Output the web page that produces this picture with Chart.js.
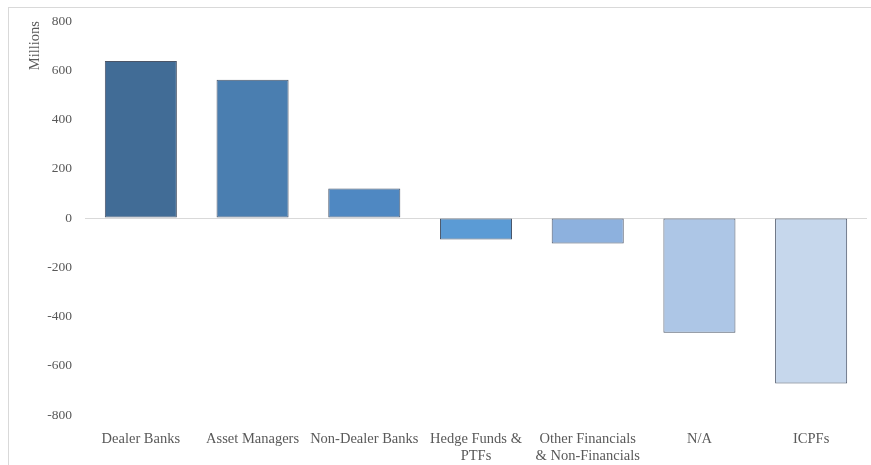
<!DOCTYPE html>
<html>
<head>
  <meta charset="utf-8">
  <title>Net positions by sector</title>
  <script src="https://cdn.jsdelivr.net/npm/chart.js"></script>
  <style>
    body {
      margin: 0;
      background: #fff;
      overflow: hidden;
    }
    #frame {
      position: absolute;
      left: 8px;
      top: 7px;
      width: 900px;
      height: 500px;
      border: 1px solid #d9d9d9;
    }
    #wrap {
      position: absolute;
      left: 0;
      top: 0;
      width: 871px;
      height: 465px;
    }
  </style>
</head>
<body>
  <div id="frame"></div>
  <div id="wrap">
    <canvas id="sectorChart" width="871" height="465"></canvas>
  </div>

  <script>
    // ------------------- DATA --------------------
    const categories = [
      'Dealer Banks',
      'Asset Managers',
      'Non-Dealer Banks',
      ['Hedge Funds &', 'PTFs'],
      ['Other Financials', '& Non-Financials'],
      'N/A',
      'ICPFs'
    ];
    const values = [638, 562, 120, -87, -103, -466, -672];
    const barColors = ['#416c96', '#4a7eb0', '#4f88c2', '#5b9bd5', '#8db1de', '#adc6e6', '#c6d7ec'];
    const yTicks = [-800, -600, -400, -200, 0, 200, 400, 600, 800];

    const fontFamily = '"Palatino Linotype", "Book Antiqua", Palatino, "Liberation Serif", serif';

    // ------------------- CHART --------------------
    const sectorChart = new Chart(document.getElementById('sectorChart'), {
      type: 'bar',
      data: {
        labels: categories,
        datasets: [{
          label: 'Millions',
          data: values,
          backgroundColor: barColors,
          borderColor: '#4a5568',
          borderWidth: 1,
          borderSkipped: false,
          categoryPercentage: 1,
          barPercentage: 0.645
        }]
      },
      options: {
        responsive: false,
        animation: false,
        devicePixelRatio: 1,
        layout: {
          padding: { left: 22, right: 4, top: 16, bottom: 0 }
        },
        plugins: {
          legend: { display: false },
          tooltip: { enabled: false }
        },
        scales: {
          x: {
            grid: { display: false, drawTicks: false },
            border: { display: false },
            ticks: {
              color: '#595959',
              font: { family: fontFamily, size: 14.5 },
              padding: 15,
              maxRotation: 0,
              autoSkip: false
            },
            afterFit: (scale) => { scale.height = 50; }
          },
          y: {
            min: -800,
            max: 800,
            afterBuildTicks: (scale) => {
              scale.ticks = yTicks.map(v => ({ value: v }));
            },
            grid: {
              drawTicks: false,
              color: (ctx) => (ctx.tick && ctx.tick.value === 0) ? '#d9d9d9' : 'rgba(0,0,0,0)'
            },
            border: { display: false },
            ticks: {
              color: '#595959',
              font: { family: fontFamily, size: 13.5 },
              padding: 13,
              autoSkip: false
            },
            title: {
              display: true,
              text: 'Millions',
              align: 'end',
              color: '#595959',
              font: { family: fontFamily, size: 14.5 },
              padding: { top: 4, bottom: 0 }
            },
            afterFit: (scale) => { scale.width = 63; }
          }
        }
      }
    });
  </script>
</body>
</html>
